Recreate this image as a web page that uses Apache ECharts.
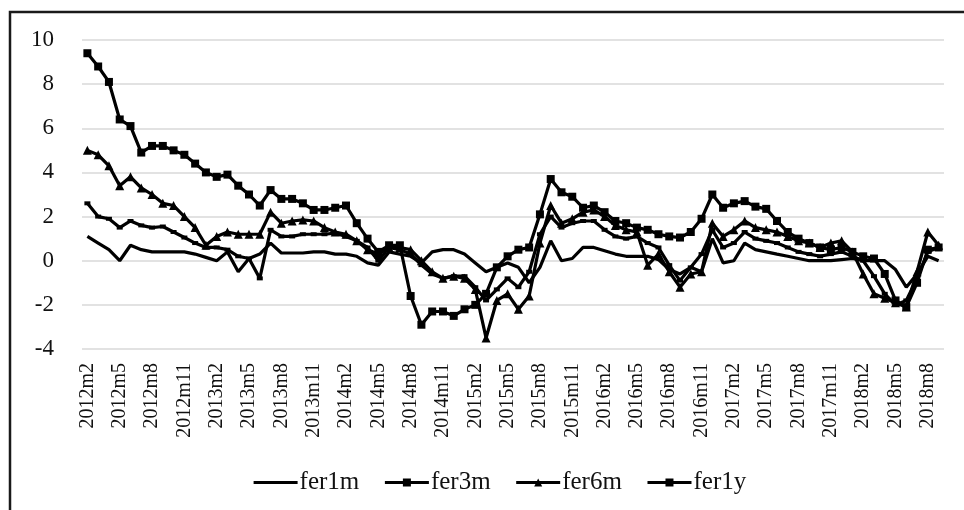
<!DOCTYPE html>
<html>
<head>
<meta charset="utf-8">
<script src="https://cdn.jsdelivr.net/npm/echarts@6/dist/echarts.min.js"></script>
<style>html,body{margin:0;padding:0;background:#fff}#c{width:964px;height:510px}</style>
</head>
<body>
<div id="c"></div>
<script>
// months 2012m2 .. 2018m9
var months = [];
(function(){ for (var y = 2012; y <= 2018; y++) { for (var m = 1; m <= 12; m++) { if (y === 2012 && m < 2) continue; if (y === 2018 && m > 9) continue; months.push(y + 'm' + m); } } })();

var fer1m = [1.1,0.8,0.5,0.0,0.7,0.5,0.4,0.4,0.4,0.4,0.3,0.15,0.0,0.4,-0.5,0.1,0.3,0.8,0.35,0.35,
0.35,0.4,0.4,0.3,0.3,0.2,-0.1,-0.2,0.4,0.3,0.2,-0.1,0.4,0.5,0.5,0.3,-0.1,-0.5,-0.3,-0.1,
-0.3,-1.0,-0.3,0.9,0.0,0.1,0.6,0.6,0.45,0.3,0.2,0.2,0.2,0.05,-0.4,-0.6,-0.3,-0.5,1.0,-0.1,
0.0,0.8,0.5,0.4,0.3,0.2,0.1,0.0,0.0,0.0,0.05,0.1,0.0,0.0,0.0,-0.4,-1.2,-0.6,0.2,0.0];

var fer3m = [2.6,2.0,1.9,1.5,1.8,1.6,1.5,1.55,1.3,1.05,0.8,0.6,0.6,0.5,0.2,0.1,-0.8,1.4,1.1,1.1,
1.2,1.2,1.2,1.25,1.1,0.9,0.6,0.0,0.6,0.5,0.3,-0.2,-0.6,-0.8,-0.7,-0.7,-1.2,-1.8,-1.3,-0.8,
-1.2,-0.5,1.2,2.0,1.5,1.7,1.8,1.8,1.4,1.1,1.0,1.1,0.8,0.6,-0.2,-0.9,-0.3,0.3,1.4,0.6,
0.8,1.3,1.0,0.9,0.8,0.6,0.4,0.3,0.2,0.3,0.4,0.2,0.0,-0.7,-1.5,-2.0,-1.8,-0.8,0.4,0.6];

var fer6m = [5.0,4.8,4.3,3.4,3.8,3.3,3.0,2.6,2.5,2.0,1.5,0.7,1.1,1.3,1.2,1.2,1.2,2.2,1.7,1.8,
1.85,1.8,1.5,1.3,1.2,0.9,0.5,0.3,0.6,0.6,0.5,0.0,-0.5,-0.8,-0.7,-0.8,-1.3,-3.5,-1.8,-1.5,
-2.2,-1.6,0.8,2.5,1.7,1.9,2.2,2.3,2.0,1.6,1.4,1.3,-0.2,0.3,-0.5,-1.2,-0.6,-0.5,1.7,1.1,
1.4,1.8,1.5,1.4,1.3,1.1,0.9,0.8,0.6,0.8,0.9,0.4,-0.6,-1.5,-1.7,-1.9,-2.1,-0.5,1.3,0.7];

var fer1y = [9.4,8.8,8.1,6.4,6.1,4.9,5.2,5.2,5.0,4.8,4.4,4.0,3.8,3.9,3.4,3.0,2.5,3.2,2.8,2.8,
2.6,2.3,2.3,2.4,2.5,1.7,1.0,0.4,0.7,0.7,-1.6,-2.9,-2.3,-2.3,-2.5,-2.2,-2.0,-1.5,-0.3,0.2,
0.5,0.6,2.1,3.7,3.1,2.9,2.4,2.5,2.2,1.8,1.7,1.5,1.4,1.2,1.1,1.05,1.3,1.9,3.0,2.4,
2.6,2.7,2.45,2.35,1.8,1.3,1.0,0.8,0.6,0.5,0.6,0.4,0.2,0.1,-0.6,-1.8,-2.1,-1.0,0.5,0.6];

var seriesNames = ['fer1m','fer3m','fer6m','fer1y'];
var yTicks = {min: -4, max: 10, interval: 2};

var FONT = 'Liberation Serif';
var chart = echarts.init(document.getElementById('c'), null, {renderer: 'canvas'});

function mk(name, data, symbol, size) {
  return {
    name: name, type: 'line', data: data,
    symbol: symbol, symbolSize: size, showSymbol: symbol !== 'none', showAllSymbol: true,
    lineStyle: {color: '#000', width: 3.2},
    itemStyle: {color: '#000', borderWidth: 0},
    emphasis: {disabled: true},
    animation: false
  };
}

chart.setOption({
  animation: false,
  backgroundColor: '#fff',
  graphic: [{
    type: 'rect', z: 100, silent: true,
    shape: {x: 10, y: 12, width: 1000, height: 600},
    style: {fill: 'none', stroke: '#1a1a1a', lineWidth: 2.5}
  }],
  grid: {left: 82, right: 20, top: 40, bottom: 161, containLabel: false},
  legend: {
    data: [
      {name: 'fer1m', itemStyle: {color: 'rgba(0,0,0,0)', opacity: 0, borderWidth: 0}},
      {name: 'fer3m'}, {name: 'fer6m'}, {name: 'fer1y'}
    ],
    left: 247, top: 465,
    itemWidth: 44, itemHeight: 10, itemGap: 24,
    lineStyle: {width: 3.2},
    textStyle: {fontFamily: FONT, fontSize: 25, color: '#111', padding: [0,0,0,-3]}
  },
  xAxis: {
    type: 'category', data: months, boundaryGap: true,
    axisLine: {show: false}, axisTick: {show: false},
    axisLabel: {interval: 2, rotate: 90, margin: 14, fontFamily: FONT, fontSize: 20, color: '#111'},
    splitLine: {show: false}
  },
  yAxis: {
    type: 'value', min: yTicks.min, max: yTicks.max, interval: yTicks.interval,
    axisLine: {show: false}, axisTick: {show: false},
    axisLabel: {margin: 28, fontFamily: FONT, fontSize: 23, color: '#111'},
    splitLine: {lineStyle: {color: '#d9d9d9', width: 1.5}}
  },
  series: [
    mk('fer1m', fer1m, 'none', 0),
    mk('fer3m', fer3m, 'rect', [6, 4]),
    mk('fer6m', fer6m, 'triangle', 9),
    mk('fer1y', fer1y, 'rect', 8)
  ]
});
</script>
</body>
</html>
